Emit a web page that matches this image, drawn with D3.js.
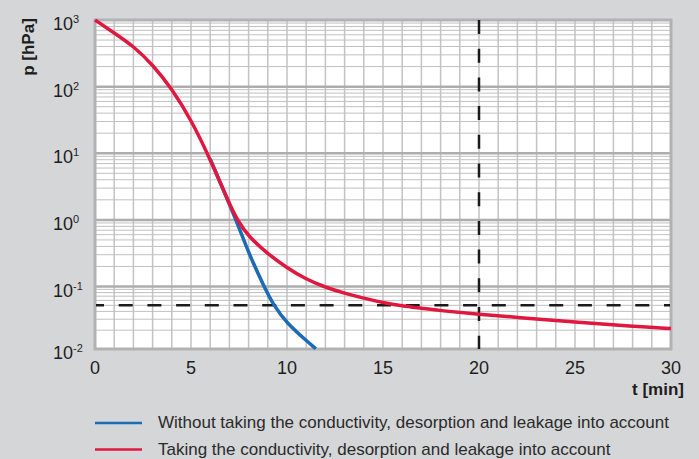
<!DOCTYPE html>
<html>
<head>
<meta charset="utf-8">
<title>Pump-down curve</title>
<script src="https://cdn.jsdelivr.net/npm/d3@7/dist/d3.min.js"></script>
<style>
  body { margin: 0; background: #d5d6d8; }
  svg { display: block; font-family: "Liberation Sans", Arial, sans-serif; }
</style>
</head>
<body>
<svg width="699" height="459"></svg>
<script>
// data
const tRed = [0, 1, 2, 3, 4, 5, 6, 7, 7.4, 8, 9, 10, 11, 12, 13, 14, 15, 16, 17, 18, 20, 22, 25, 28, 30];
const pRed = [1000, 640, 405, 215, 93, 32, 8.2, 1.74, 1.0, 0.56, 0.31, 0.19, 0.128, 0.097, 0.078, 0.065, 0.055, 0.049, 0.045, 0.041, 0.036, 0.032, 0.027, 0.023, 0.0213];
const tBlue = [6, 7, 7.5, 8, 8.8, 9.3, 10, 11, 11.5];
const pBlue = [8.2, 1.72, 0.77, 0.32, 0.1, 0.05, 0.0257, 0.0137, 0.0101];
const xTicks = [0, 5, 10, 15, 20, 25, 30];
const yExps = [-2, -1, 0, 1, 2, 3];
const limitP = 0.05;   // horizontal dashed
const limitT = 20;     // vertical dashed
const legendLabels = [
  "Without taking the conductivity, desorption and leakage into account",
  "Taking the conductivity, desorption and leakage into account"
];
const colors = ["#1b6bb6", "#e0173f"];

const svg = d3.select("svg");
const plotL = 95, plotR = 671, plotT = 20, plotB = 349;

const x = d3.scaleLinear().domain([0, 30]).range([plotL, plotR]);
// bottom decade is drawn a little shorter in the original
const y = d3.scaleLog().domain([0.01, 0.1, 1000]).range([plotB, 286.5, plotT]);

// plot background
svg.append("rect")
  .attr("x", plotL).attr("y", plotT)
  .attr("width", plotR - plotL).attr("height", plotB - plotT)
  .attr("fill", "#fff");

// vertical grid, every minute
d3.range(1, 30).forEach(t => {
  svg.append("line")
    .attr("x1", x(t)).attr("x2", x(t))
    .attr("y1", plotT).attr("y2", plotB)
    .attr("stroke", "#c3c3c3").attr("stroke-width", 1.5);
});

// horizontal grid, log minors then decades
yExps.slice(0, -1).forEach(e => {
  for (let k = 2; k <= 9; k++) {
    const v = k * Math.pow(10, e);
    svg.append("line")
      .attr("x1", plotL).attr("x2", plotR)
      .attr("y1", y(v)).attr("y2", y(v))
      .attr("stroke", "#c0c0c0").attr("stroke-width", 1);
  }
});
yExps.slice(1, -1).forEach(e => {
  const v = Math.pow(10, e);
  svg.append("line")
    .attr("x1", plotL).attr("x2", plotR)
    .attr("y1", y(v)).attr("y2", y(v))
    .attr("stroke", "#adadad").attr("stroke-width", 2.5);
});

// frame
svg.append("rect")
  .attr("x", plotL).attr("y", plotT)
  .attr("width", plotR - plotL).attr("height", plotB - plotT)
  .attr("fill", "none").attr("stroke", "#b2b2b2").attr("stroke-width", 3);

// dashed reference lines
svg.append("line")
  .attr("x1", plotL + 1).attr("x2", plotR - 1)
  .attr("y1", y(limitP)).attr("y2", y(limitP))
  .attr("stroke", "#1a1a1a").attr("stroke-width", 2.5)
  .attr("stroke-dasharray", "14,14.7").attr("stroke-dashoffset", 6);
svg.append("line")
  .attr("x1", x(limitT)).attr("x2", x(limitT))
  .attr("y1", plotT).attr("y2", plotB)
  .attr("stroke", "#1a1a1a").attr("stroke-width", 2.5)
  .attr("stroke-dasharray", "14,14.7");

// curves
const line = d3.line()
  .x(d => x(d[0]))
  .y(d => y(d[1]))
  .curve(d3.curveBasis);

svg.append("path")
  .datum(tBlue.map((t, i) => [t, pBlue[i]]))
  .attr("d", line)
  .attr("fill", "none").attr("stroke", colors[0]).attr("stroke-width", 3.5);
svg.append("path")
  .datum(tRed.map((t, i) => [t, pRed[i]]))
  .attr("d", line)
  .attr("fill", "none").attr("stroke", colors[1]).attr("stroke-width", 3.5);

// x tick labels
xTicks.forEach(t => {
  svg.append("text")
    .text(t)
    .attr("x", x(t)).attr("y", 374)
    .attr("text-anchor", "middle")
    .attr("font-size", 18).attr("fill", "#1e1e1e");
});

// y tick labels 10^e
yExps.forEach(e => {
  const lbl = svg.append("text")
    .attr("x", 53).attr("y", y(Math.pow(10, e)) + 10)
    .attr("font-size", 18).attr("fill", "#1e1e1e");
  lbl.append("tspan").text("10");
  lbl.append("tspan").text(e).attr("dy", -7).attr("font-size", 11);
});

// axis titles
svg.append("text")
  .text("p [hPa]")
  .attr("transform", "translate(34,47) rotate(-90)")
  .attr("text-anchor", "middle")
  .attr("font-size", 17).attr("font-weight", "bold").attr("fill", "#1e1e1e");
svg.append("text")
  .text("t [min]")
  .attr("x", 684).attr("y", 395)
  .attr("text-anchor", "end")
  .attr("font-size", 17).attr("font-weight", "bold").attr("fill", "#1e1e1e");

// legend
legendLabels.forEach((s, i) => {
  const ly = 423 + i * 26.5;
  svg.append("line")
    .attr("x1", 95).attr("x2", 142)
    .attr("y1", ly).attr("y2", ly)
    .attr("stroke", colors[i]).attr("stroke-width", 2.5);
  svg.append("text")
    .text(s)
    .attr("x", 158).attr("y", ly + 5)
    .attr("font-size", 17).attr("fill", "#2a2a2a");
});
</script>
</body>
</html>
